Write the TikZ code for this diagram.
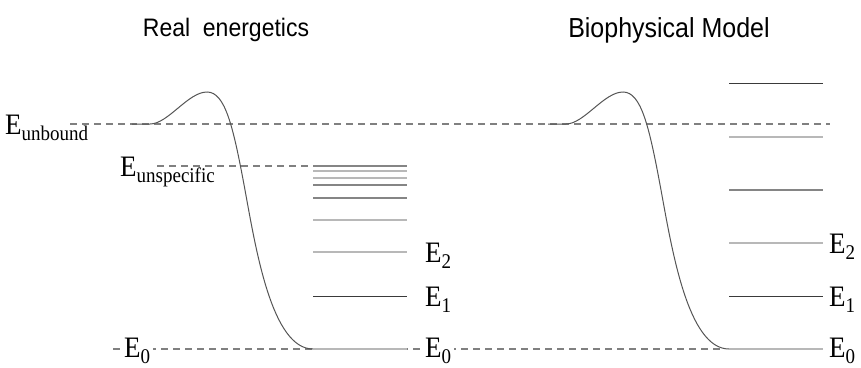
\documentclass[tikz,border=0pt]{standalone}
\usepackage{fontspec}
\setmainfont{Liberation Serif}
\setsansfont{Liberation Sans}
\usepackage{graphicx}
\usetikzlibrary{positioning}
\definecolor{curvegray}{HTML}{555555}
\definecolor{dashgray}{HTML}{808080}
\definecolor{darklevel}{HTML}{3A3A3A}
\definecolor{midlevel}{HTML}{858585}
\definecolor{lightlevel}{HTML}{B8B8B8}
\newcommand{\tallstretch}[1]{\scalebox{1}[1.1]{#1}}
\newcommand{\elevel}[1]{\tallstretch{E\raisebox{-6pt}{\fontsize{19}{19}\selectfont #1}}}

\begin{document}
\begin{tikzpicture}[x=1pt, y=-1pt,
  title/.style={font=\sffamily\fontsize{23}{23}\selectfont, inner sep=0pt},
  elabel/.style={font=\fontsize{27}{27}\selectfont, inner sep=0pt, anchor=base west},
  refline/.style={draw=dashgray, line width=1.2pt, dash pattern=on 7pt off 5pt},
  wellcurve/.style={draw=curvegray, line width=1pt},
  darklvl/.style={draw=darklevel, line width=1pt},
  midlvl/.style={draw=midlevel, line width=1.5pt},
  lightlvl/.style={draw=lightlevel, line width=2pt}]
\useasboundingbox (0,0) rectangle (861,367);

% titles
\node[title] (realtitle) at (226,30) {\tallstretch{Real~~energetics}};
\node[title, font=\sffamily\fontsize{25}{25}\selectfont] (modeltitle) at (669,30) {\tallstretch{Biophysical Model}};

% reference energies
\draw[refline] (70,124) -- (830,124);
\draw[refline] (157,166) -- (308,166);
\draw[refline] (113,349) -- (722,349);

% binding curves
\foreach \dx in {0,416} {
  \draw[wellcurve, xshift=\dx] (132,124) -- (150,124)
    .. controls (168,124) and (188,92) .. (207,92)
    .. controls (225,92) and (233,125) .. (245,190)
    .. controls (256,250) and (272,349) .. (313,349);
}

% levels
\foreach \y/\s in {166/midlvl,171/lightlvl,178/lightlvl,185/midlvl,198/midlvl,220/lightlvl,252/lightlvl,296/darklvl,349/lightlvl}
  \draw[\s] (313,\y) -- (407,\y);
\foreach \y/\s in {83/darklvl,137/lightlvl,190/midlvl,243/lightlvl,296/darklvl,349/lightlvl}
  \draw[\s] (729,\y) -- (823,\y);

% labels
\node[elabel] (eunbound) at (5,134) {\elevel{unbound}};
\node[elabel] (eunspec) at (120,176) {\elevel{unspecific}};
\node[elabel, fill=white, inner xsep=3pt] (ezeroa) at (121,357) {\elevel{0}};
\node[elabel] (etwoa) at (425,262) {\elevel{2}};
\node[elabel] (eonea) at (425,306) {\elevel{1}};
\node[elabel, fill=white, inner xsep=3pt] (ezerob) at (422,357) {\elevel{0}};
\node[elabel] (etwob) at (829,253) {\elevel{2}};
\node[elabel] (eoneb) at (829,306) {\elevel{1}};
\node[elabel] (ezeroc) at (829,357) {\elevel{0}};
\end{tikzpicture}
\end{document}
